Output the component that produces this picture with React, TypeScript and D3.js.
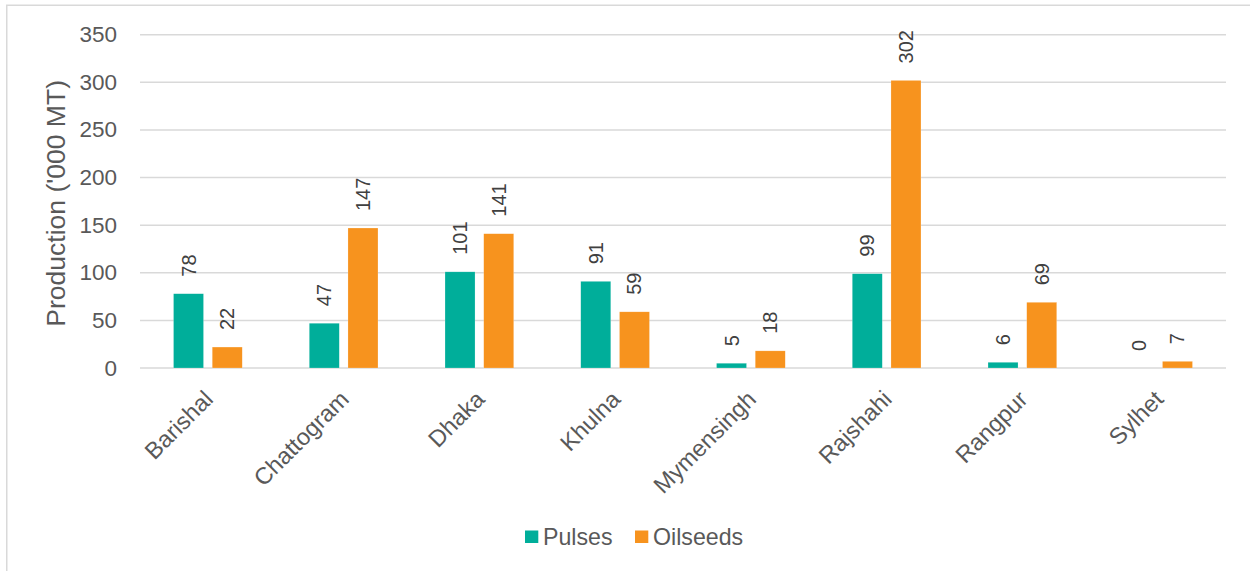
import React from "react";
import * as d3 from "d3";

const categories = ["Barishal", "Chattogram", "Dhaka", "Khulna", "Mymensingh", "Rajshahi", "Rangpur", "Sylhet"];
const seriesNames = ["Pulses", "Oilseeds"];
const pulses = [78, 47, 101, 91, 5, 99, 6, 0];
const oilseeds = [22, 147, 141, 59, 18, 302, 69, 7];
const yTicks = [0, 50, 100, 150, 200, 250, 300, 350];
const colors = ["#00AE9A", "#F7931E"];
const yTitle = "Production ('000 MT)";

const W = 1250;
const H = 571;
const plotLeft = 140;
const plotRight = 1226;
const plotTop = 34.7;
const plotBottom = 368;
const textColor = "#595959";
const font = "'Liberation Sans', Arial, sans-serif";

export default function App() {
  const x0 = d3.scaleBand<string>().domain(categories).range([plotLeft, plotRight]).padding(0);
  const x1 = d3
    .scaleBand<string>()
    .domain(seriesNames)
    .range([0, x0.bandwidth()])
    .paddingInner(0.225)
    .paddingOuter(0.866);
  const y = d3.scaleLinear().domain([0, 350]).range([plotBottom, plotTop]);
  const values = [pulses, oilseeds];

  const legendItems = [
    { name: seriesNames[0], sx: 525, tx: 543 },
    { name: seriesNames[1], sx: 635, tx: 653 },
  ];

  return (
    <svg
      width={W}
      height={H}
      style={{ position: "absolute", left: 0, top: 0, background: "#fff" }}
      fontFamily={font}
    >
      <rect x={0} y={0} width={W} height={H} fill="#fff" />
      <rect x={6.75} y={5.25} width={W + 20} height={H + 20} fill="none" stroke="#d9d9d9" strokeWidth={1.5} />
      {yTicks.map((t) => (
        <g key={t}>
          <line x1={plotLeft} x2={plotRight} y1={y(t)} y2={y(t)} stroke="#d9d9d9" strokeWidth={1.5} />
          <text
            x={117}
            y={y(t)}
            textAnchor="end"
            dominantBaseline="central"
            fontSize={22.5}
            fill={textColor}
          >
            {t}
          </text>
        </g>
      ))}
      <text
        transform={`translate(56,${(plotTop + plotBottom) / 2 + 2}) rotate(-90)`}
        textAnchor="middle"
        dominantBaseline="central"
        fontSize={26.5}
        fill={textColor}
      >
        {yTitle}
      </text>
      {categories.map((c, i) => (
        <g key={c}>
          {seriesNames.map((s, j) => {
            const v = values[j][i];
            const bx = (x0(c) as number) + (x1(s) as number);
            const bw = x1.bandwidth();
            const cx = bx + bw / 2;
            return (
              <g key={s}>
                <rect
                  x={bx}
                  y={y(v)}
                  width={bw}
                  height={plotBottom - y(v)}
                  fill={colors[j]}
                  stroke="#fff"
                  strokeWidth={0.5}
                  strokeOpacity={0.4}
                />
                <text
                  transform={`translate(${cx},${y(v) - 17}) rotate(-90)`}
                  textAnchor="start"
                  dominantBaseline="central"
                  fontSize={20}
                  fill="#404040"
                >
                  {v}
                </text>
              </g>
            );
          })}
          <text
            transform={`translate(${(x0(c) as number) + x0.bandwidth() / 2 + 1},395) rotate(-45)`}
            textAnchor="end"
            dominantBaseline="central"
            fontSize={23.5}
            fill={textColor}
          >
            {c}
          </text>
        </g>
      ))}
      {legendItems.map((l, i) => (
        <g key={l.name}>
          <rect x={l.sx} y={530.5} width={13.3} height={12.5} fill={colors[i]} />
          <text x={l.tx} y={537} dominantBaseline="central" fontSize={23.2} fill={textColor}>
            {l.name}
          </text>
        </g>
      ))}
    </svg>
  );
}
